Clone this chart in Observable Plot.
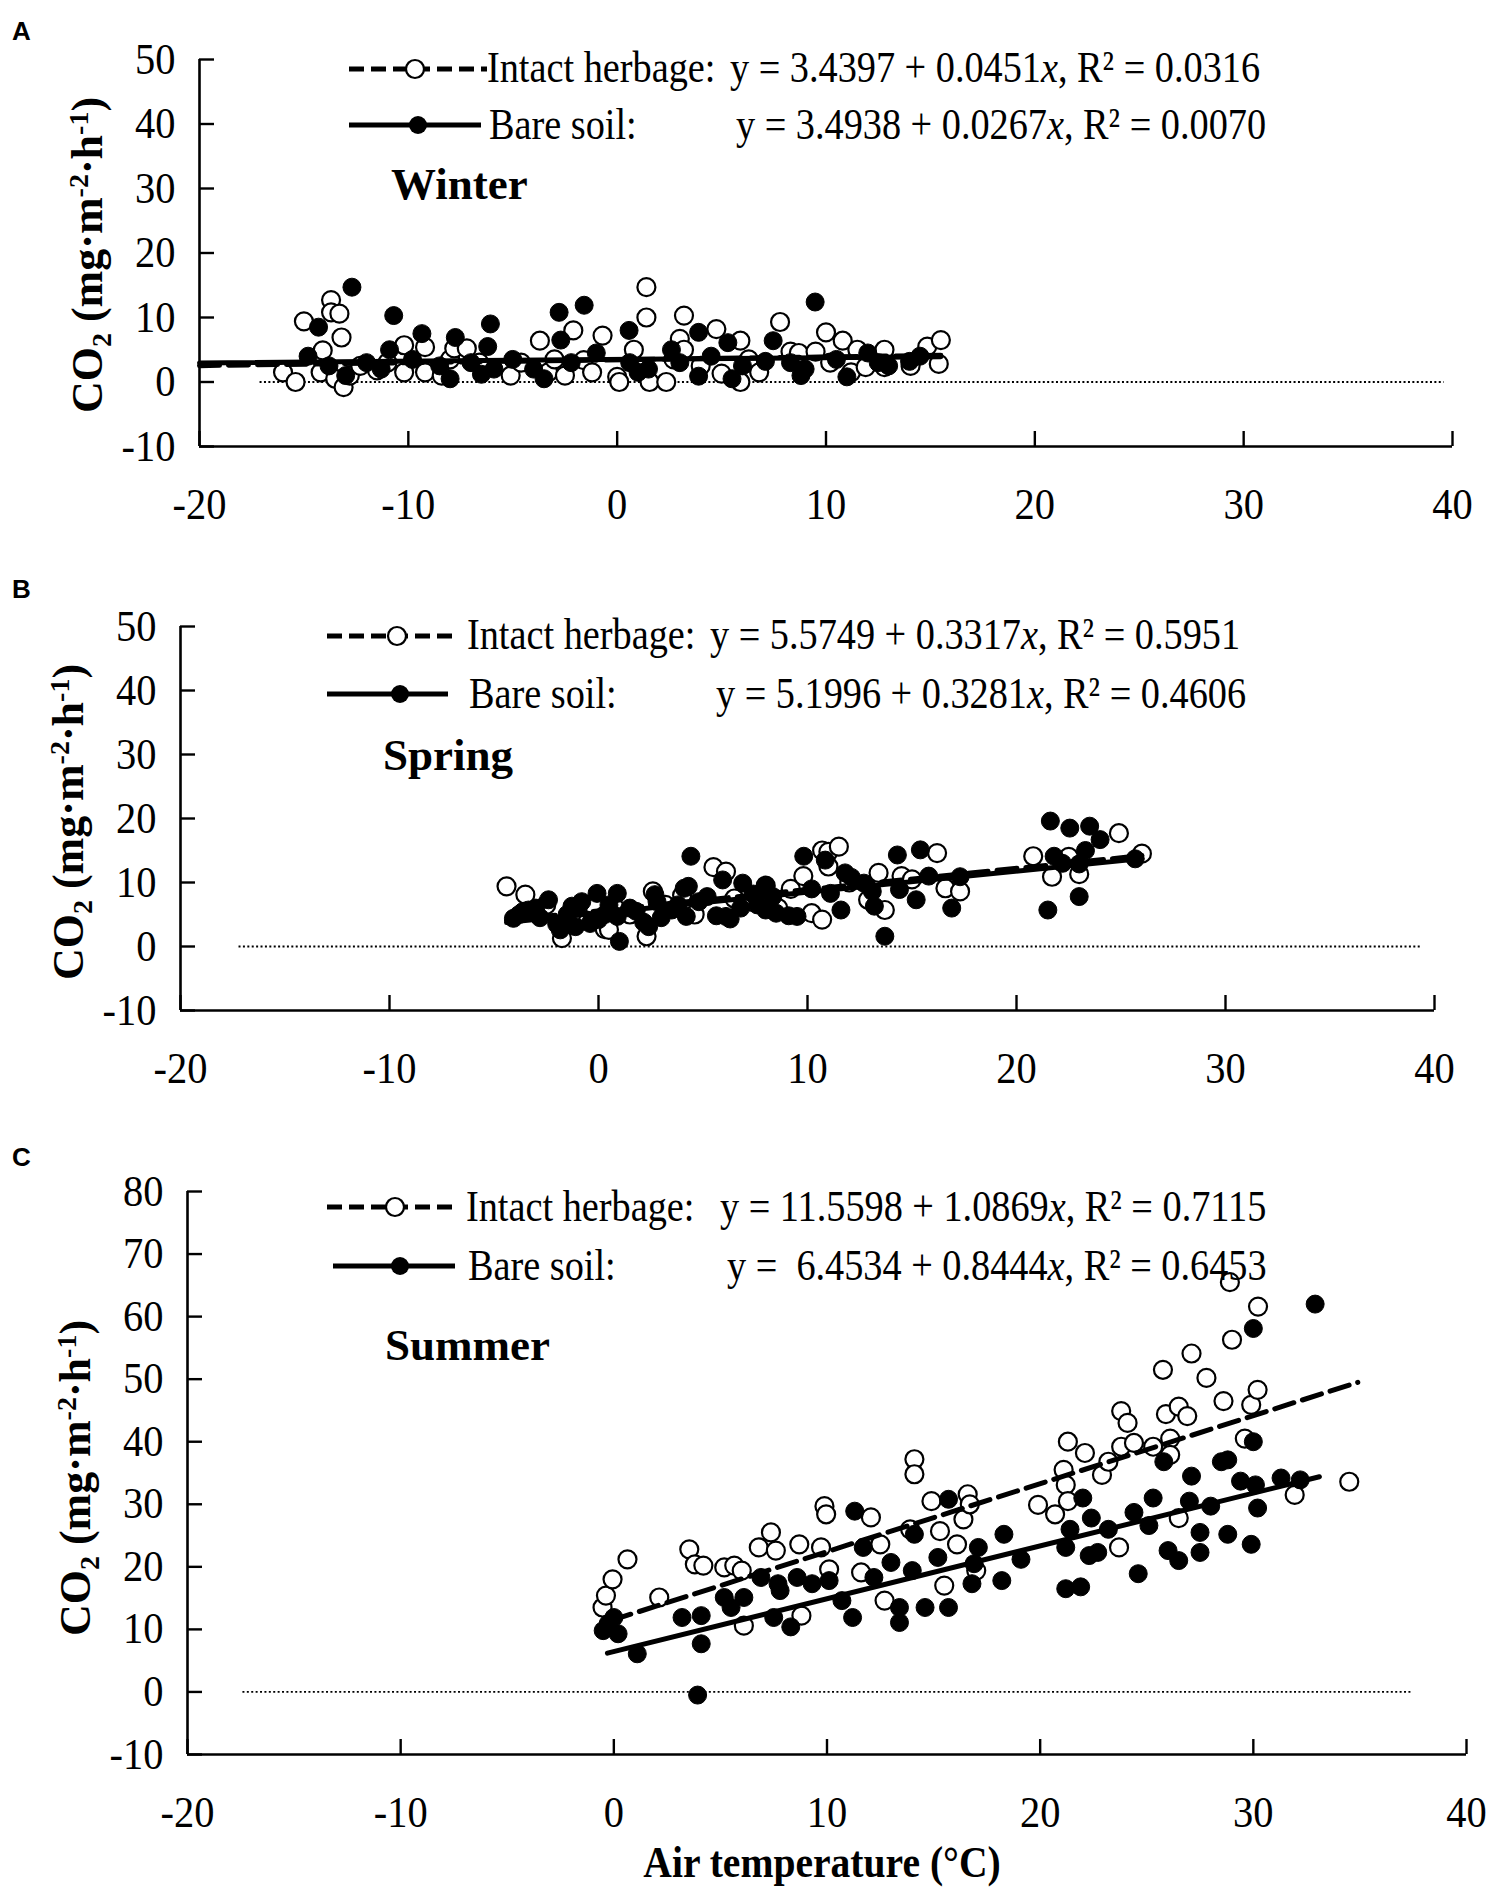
<!DOCTYPE html>
<html><head><meta charset="utf-8">
<script src="https://cdn.jsdelivr.net/npm/d3@7"></script>
<script src="https://cdn.jsdelivr.net/npm/@observablehq/plot@0.6"></script>
<style>
body{margin:0;background:#fff;}
#wrap{position:relative;width:1492px;height:1892px;background:#fff;overflow:hidden;}
#wrap svg{position:absolute;left:0;}
</style></head><body><div id="wrap"></div>
<script>
// ---------- DATA ----------
const xTicks = [-20, -10, 0, 10, 20, 30, 40];
const yTicksAB = [-10, 0, 10, 20, 30, 40, 50];
const yTicksC = [-10, 0, 10, 20, 30, 40, 50, 60, 70, 80];
const seasons = ["Winter", "Spring", "Summer"];
const panelLetters = ["A", "B", "C"];
const seriesNames = ["Intact herbage:", "Bare soil:"];

// Winter (A)
const winterHerb = [[-16.0,1.5],[-15.4,0.0],[-15.0,9.4],[-14.2,1.5],[-14.1,4.9],[-13.7,12.7],[-13.7,10.8],[-13.3,10.6],[-13.2,6.9],[-13.5,0.5],[-13.1,-0.8],[-12.8,1.0],[-12.3,2.5],[-11.5,1.8],[-11.0,3.0],[-10.2,5.7],[-10.2,1.5],[-9.2,1.5],[-9.2,5.4],[-8.4,1.0],[-8.0,3.5],[-7.8,5.2],[-7.2,5.2],[-6.6,3.0],[-5.1,1.0],[-4.6,3.0],[-3.7,6.4],[-3.3,1.5],[-3.0,3.5],[-2.5,1.0],[-2.1,8.0],[-1.6,3.4],[-1.2,1.5],[-0.7,7.2],[0.0,0.8],[0.1,0.0],[0.8,5.0],[1.4,14.7],[1.4,10.0],[1.55,0.0],[2.35,0.0],[2.7,3.5],[3.0,6.7],[3.2,10.3],[3.2,5.0],[4.0,2.5],[4.75,8.2],[5.0,1.3],[5.9,6.4],[5.9,0.0],[6.3,3.5],[6.8,1.5],[7.8,9.3],[8.3,4.7],[8.7,4.5],[9.5,4.7],[10.0,7.7],[10.2,3.0],[10.8,6.4],[11.2,1.5],[11.5,5.0],[11.9,2.3],[12.8,5.0],[12.8,2.3],[14.05,2.5],[14.85,5.5],[15.4,2.8],[15.5,6.5]];
const winterSoil = [[-14.8,4.0],[-14.3,8.5],[-13.8,2.5],[-13.0,1.0],[-12.7,14.7],[-12.0,3.0],[-11.3,2.0],[-10.9,5.0],[-10.7,10.3],[-9.8,3.5],[-9.35,7.5],[-8.5,2.5],[-8.0,0.5],[-7.75,6.9],[-7.0,3.0],[-6.5,1.2],[-6.2,5.5],[-6.07,9.0],[-5.9,2.0],[-5.0,3.5],[-4.0,2.0],[-3.5,0.5],[-2.78,10.8],[-2.7,6.5],[-2.2,3.0],[-1.58,11.9],[-1.0,4.5],[0.57,8.0],[0.6,3.0],[1.0,1.5],[1.5,2.0],[2.6,5.0],[3.0,3.0],[3.9,7.7],[3.9,0.9],[4.5,4.0],[5.3,6.1],[5.5,0.5],[6.0,2.5],[7.1,3.2],[7.47,6.4],[8.3,3.0],[8.8,1.0],[9.0,2.0],[9.48,12.4],[10.5,3.5],[11.0,0.8],[12.0,4.5],[12.5,3.0],[13.0,2.5],[14.0,3.2],[14.5,4.0]];
const winterHerbFit = [3.4397, 0.0451];
const winterSoilFit = [3.4938, 0.0267];
const winterHerbRange = [-20, 15.5];
const winterSoilRange = [-20, 15.5];
const winterEq = [["y = 3.4397 + 0.0451", ", R² = 0.0316"], ["y = 3.4938 + 0.0267", ", R² = 0.0070"]];

// Spring (B)
const springHerb = [[-4.4,9.4],[-3.5,8.1],[-3.0,5.5],[-2.5,6.5],[-1.75,1.3],[-1.0,5.5],[-0.5,4.0],[0.3,2.7],[0.5,2.6],[0.8,6.0],[1.5,5.0],[2.3,1.6],[2.6,8.6],[3.2,6.5],[4.0,8.0],[4.6,5.0],[5.5,12.4],[6.1,11.7],[6.5,7.5],[7.3,7.0],[8.0,9.5],[8.6,6.0],[9.2,9.0],[9.8,11.0],[10.2,5.2],[10.7,4.2],[10.7,15.0],[11.0,14.8],[11.5,15.6],[11.0,12.5],[12.0,10.0],[12.9,7.3],[13.4,11.5],[13.7,5.7],[14.5,11.0],[15.0,10.5],[16.2,14.6],[16.6,9.1],[17.3,8.6],[20.8,14.1],[21.7,10.9],[22.5,14.0],[23.0,11.3],[24.9,17.7],[26.0,14.5]];
const springSoil = [[-4.07,4.4],[-3.8,5.0],[-3.6,5.5],[-3.35,5.7],[-3.0,6.0],[-2.8,4.5],[-2.39,7.3],[-2.0,3.5],[-1.83,2.6],[-1.5,5.0],[-1.27,6.3],[-1.1,3.1],[-0.8,7.0],[-0.4,3.6],[-0.07,8.3],[0.0,4.2],[0.3,5.0],[0.5,6.5],[0.9,8.3],[0.9,4.7],[1.0,0.8],[1.5,6.0],[1.8,5.5],[2.16,3.8],[2.4,3.1],[2.7,8.1],[2.8,7.0],[3.0,4.5],[3.5,5.7],[3.8,6.5],[4.1,9.1],[4.2,4.7],[4.3,9.4],[4.42,14.1],[4.8,7.0],[5.2,7.8],[5.64,4.8],[5.94,10.4],[6.1,4.7],[6.3,4.3],[6.8,6.0],[6.9,9.9],[7.4,8.2],[7.6,6.5],[8.0,9.4],[8.0,5.7],[8.34,7.8],[8.5,5.2],[9.1,4.8],[9.5,4.7],[9.82,14.1],[10.2,9.0],[10.85,13.5],[11.1,8.3],[11.6,5.7],[11.8,11.5],[12.1,10.8],[12.7,9.9],[13.1,8.6],[13.2,6.3],[13.7,1.6],[14.3,14.3],[14.4,8.9],[15.2,7.3],[15.4,15.1],[15.8,11.0],[16.9,6.0],[17.3,10.9],[21.5,5.7],[21.62,19.6],[21.8,14.1],[22.2,13.0],[22.55,18.5],[23.0,7.8],[23.0,12.9],[23.3,15.0],[23.5,18.8],[24.0,16.7],[25.68,13.7]];
const springHerbFit = [5.5749, 0.3317];
const springSoilFit = [5.1996, 0.3281];
const springHerbRange = [-4.4, 26.0];
const springSoilRange = [-4.4, 26.0];
const springEq = [["y = 5.5749 + 0.3317", ", R² = 0.5951"], ["y = 5.1996 + 0.3281", ", R² = 0.4606"]];

// Summer (C)
const summerHerb = [[-0.53,13.5],[-0.37,15.4],[-0.06,18.0],[0.64,21.2],[2.13,15.1],[3.54,22.8],[3.8,20.4],[4.2,20.2],[5.18,19.9],[5.65,20.2],[6.0,19.4],[6.1,10.6],[6.8,23.1],[7.37,25.5],[7.6,22.6],[8.7,23.6],[8.8,12.2],[9.72,23.1],[9.88,29.7],[9.96,28.4],[10.1,19.6],[11.6,19.1],[12.06,27.9],[12.5,23.6],[12.7,14.6],[13.9,26.0],[14.1,37.2],[14.1,34.8],[14.9,30.5],[15.3,25.7],[15.5,17.0],[16.1,23.6],[16.4,27.6],[16.6,31.6],[16.7,30.0],[17.0,19.4],[19.9,29.9],[20.7,28.4],[21.1,35.5],[21.2,33.1],[21.3,30.5],[21.3,40.0],[22.1,38.2],[22.9,34.7],[23.2,36.8],[23.7,23.1],[23.8,39.2],[23.8,44.9],[24.1,43.0],[24.4,39.8],[25.3,39.2],[25.76,51.5],[25.9,44.4],[26.1,40.5],[26.1,37.9],[26.5,45.6],[26.5,27.8],[26.9,44.1],[27.1,54.1],[27.8,50.2],[28.6,46.5],[28.9,65.5],[29.0,56.3],[29.6,40.5],[29.9,45.9],[30.2,48.3],[30.22,61.6],[31.94,31.5],[34.5,33.6]];
const summerSoil = [[-0.5,9.8],[-0.27,10.9],[0.0,11.9],[0.2,9.3],[1.1,6.1],[3.93,-0.5],[4.1,7.7],[3.2,11.9],[4.1,12.2],[5.18,15.1],[5.5,13.5],[6.1,15.1],[6.9,18.3],[7.5,11.9],[7.7,17.3],[7.8,16.2],[8.3,10.4],[8.6,18.3],[9.3,17.3],[10.1,17.8],[10.7,14.6],[11.2,11.9],[11.3,28.9],[11.7,23.1],[12.2,18.3],[13.0,20.7],[13.4,13.5],[13.4,11.1],[14.0,19.4],[14.1,25.2],[14.6,13.5],[15.2,21.5],[15.7,13.5],[15.7,30.8],[16.8,17.3],[16.9,20.5],[17.1,23.1],[18.2,17.8],[18.3,25.2],[19.1,21.2],[21.2,23.1],[21.2,16.5],[21.4,26.0],[21.9,16.8],[22.0,31.0],[22.3,21.8],[22.4,27.8],[22.7,22.3],[23.2,26.0],[24.4,28.7],[24.6,18.9],[25.1,26.6],[25.3,31.0],[25.8,36.8],[26.0,22.6],[26.5,21.0],[27.0,30.5],[27.1,34.5],[27.5,25.5],[27.5,22.3],[28.0,29.7],[28.5,36.8],[28.8,37.1],[28.8,25.2],[29.4,33.7],[29.9,23.6],[30.0,40.0],[30.0,58.1],[30.1,33.1],[30.2,29.4],[31.3,34.2],[32.2,33.9],[32.9,62.0]];
const summerHerbFit = [11.5598, 1.0869];
const summerSoilFit = [6.4534, 0.8444];
const summerHerbRange = [-0.1, 34.9];
const summerSoilRange = [-0.3, 33.1];
const summerEq = [["y = 11.5598 + 1.0869", ", R² = 0.7115"], ["y =\u00A0 6.4534 + 0.8444", ", R² = 0.6453"]];

// ---------- LAYOUT ----------
const FONT = "'Liberation Serif','Times New Roman',serif";
const panels = [
  {top:0, height:560, mL:199, mR:40, mT:59, mB:114, yDomain:[-10,50], yTicks:yTicksAB, zero:[-17.1,39.6],
   herb:winterHerb, soil:winterSoil, hf:winterHerbFit, sf:winterSoilFit, hr:winterHerbRange, sr:winterSoilRange, eq:winterEq,
   letterY:40, titleX:102, titleY:255,
   leg:{r1:69, b1:82, r2:125, b2:139, d:[349,487,415], s:[349,481,418], t1:487, e1:730, t2:489, e2:736},
   season:[391,199]},
  {top:560, height:560, mL:180, mR:58, mT:66, mB:110, yDomain:[-10,50], yTicks:yTicksAB, zero:[-17.2,39.4],
   herb:springHerb, soil:springSoil, hf:springHerbFit, sf:springSoilFit, hr:springHerbRange, sr:springSoilRange, eq:springEq,
   letterY:598, titleX:83, titleY:822,
   leg:{r1:636, b1:649, r2:694, b2:708, d:[327,457,397], s:[327,448,400], t1:467, e1:710, t2:469, e2:716},
   season:[383,770]},
  {top:1120, height:772, mL:187, mR:26, mT:71, mB:138, yDomain:[-10,80], yTicks:yTicksC, zero:[-17.4,37.5],
   herb:summerHerb, soil:summerSoil, hf:summerHerbFit, sf:summerSoilFit, hr:summerHerbRange, sr:summerSoilRange, eq:summerEq,
   letterY:1166, titleX:90, titleY:1478,
   leg:{r1:1207, b1:1221, r2:1266, b2:1280, d:[327,457,395], s:[333,455,400], t1:466, e1:720, t2:468, e2:727},
   season:[385,1360]}
];

const wrap = document.getElementById("wrap");
const fitLine = (fit, range) => range.map(x => [x, fit[0] + fit[1] * x]);
const TICK = 15;
const R = 9;

panels.forEach((p, i) => {
  const innerH = p.height - p.mT - p.mB;
  const innerW = 1492 - p.mL - p.mR;
  const svg = Plot.plot({
    width: 1492, height: p.height,
    marginLeft: p.mL, marginRight: p.mR, marginTop: p.mT, marginBottom: p.mB,
    x: {domain: [-20, 40]},
    y: {domain: p.yDomain},
    style: {fontFamily: FONT, fontSize: "44px", color: "#000", background: "transparent", overflow: "visible"},
    marks: [
      Plot.ruleY([{y: 0, x1: p.zero[0], x2: p.zero[1]}], {y: "y", x1: "x1", x2: "x2", stroke: "#000", strokeWidth: 1.8, strokeDasharray: "2,2.4"}),
      Plot.dot(p.herb, {x: d => d[0], y: d => d[1], r: R, fill: "white", stroke: "black", strokeWidth: 2.2}),
      Plot.dot(p.soil, {x: d => d[0], y: d => d[1], r: R, fill: "black", stroke: "black", strokeWidth: 1}),
      Plot.line(fitLine(p.hf, p.hr), {x: d => d[0], y: d => d[1], stroke: "black", strokeWidth: 5, strokeDasharray: "20,9"}),
      Plot.line(fitLine(p.sf, p.sr), {x: d => d[0], y: d => d[1], stroke: "black", strokeWidth: 5}),
      Plot.ruleX([-20], {stroke: "black", strokeWidth: 2.6}),
      Plot.ruleY([p.yDomain[0]], {stroke: "black", strokeWidth: 2.6}),
      Plot.tickX(xTicks, {x: d => d, insetTop: innerH - TICK, stroke: "black", strokeWidth: 2.4}),
      Plot.tickY(p.yTicks, {y: d => d, insetRight: innerW - TICK, stroke: "black", strokeWidth: 2.4}),
      Plot.axisX(xTicks, {tickSize: 0, tickPadding: 41, label: null, fontSize: 44, tickFormat: d => String(d)}),
      Plot.axisY(p.yTicks, {tickSize: 0, tickPadding: 24, label: null, fontSize: 44, tickFormat: d => String(d)})
    ]
  });
  // slightly condensed tick labels, as in the reference
  svg.querySelectorAll('g[aria-label="x-axis tick label"] text, g[aria-label="y-axis tick label"] text').forEach(t => {
    if (!t.hasAttribute("x")) t.setAttribute("transform", (t.getAttribute("transform") || "") + " scale(0.92,1)");
  });
  svg.style.top = p.top + "px";
  wrap.appendChild(svg);
});

// ---------- OVERLAY TEXT / LEGENDS ----------
let o = `<svg xmlns="http://www.w3.org/2000/svg" width="1492" height="1892" style="top:0;left:0" font-family="${FONT}" fill="#000">`;
panels.forEach((p, i) => {
  const L = p.leg;
  o += `<text x="12" y="${p.letterY}" font-family="'Liberation Sans',Arial,sans-serif" font-weight="bold" font-size="26">${panelLetters[i]}</text>`;
  o += `<text transform="translate(${p.titleX},${p.titleY}) rotate(-90)" text-anchor="middle" font-weight="bold" font-size="44">CO<tspan font-size="28" dy="9">2</tspan><tspan dy="-9"> (mg·m</tspan><tspan font-size="28" dy="-14">-2</tspan><tspan dy="14">·h</tspan><tspan font-size="28" dy="-14">-1</tspan><tspan dy="14">)</tspan></text>`;
  // row 1: intact herbage (dashed, open)
  o += `<line x1="${L.d[0]}" x2="${L.d[1]}" y1="${L.r1}" y2="${L.r1}" stroke="#000" stroke-width="5" stroke-dasharray="15,7"/>`;
  o += `<circle cx="${L.d[2]}" cy="${L.r1}" r="${R}" fill="#fff" stroke="#000" stroke-width="2.2"/>`;
  o += `<g transform="translate(${L.t1},${L.b1}) scale(0.87,1)"><text font-size="44">${seriesNames[0]}</text></g>`;
  o += `<g transform="translate(${L.e1},${L.b1}) scale(0.87,1)"><text font-size="44" xml:space="preserve">${p.eq[0][0]}<tspan font-style="italic">x</tspan>${p.eq[0][1]}</text></g>`;
  // row 2: bare soil (solid, filled)
  o += `<line x1="${L.s[0]}" x2="${L.s[1]}" y1="${L.r2}" y2="${L.r2}" stroke="#000" stroke-width="5"/>`;
  o += `<circle cx="${L.s[2]}" cy="${L.r2}" r="${R}" fill="#000"/>`;
  o += `<g transform="translate(${L.t2},${L.b2}) scale(0.87,1)"><text font-size="44">${seriesNames[1]}</text></g>`;
  o += `<g transform="translate(${L.e2},${L.b2}) scale(0.87,1)"><text font-size="44" xml:space="preserve">${p.eq[1][0]}<tspan font-style="italic">x</tspan>${p.eq[1][1]}</text></g>`;
  o += `<text x="${p.season[0]}" y="${p.season[1]}" font-weight="bold" font-size="45">${seasons[i]}</text>`;
});
o += `<g transform="translate(822,1877) scale(0.9,1)"><text text-anchor="middle" font-weight="bold" font-size="44">Air temperature (°C)</text></g>`;
o += `</svg>`;
wrap.insertAdjacentHTML("beforeend", o);
</script>
</body></html>
